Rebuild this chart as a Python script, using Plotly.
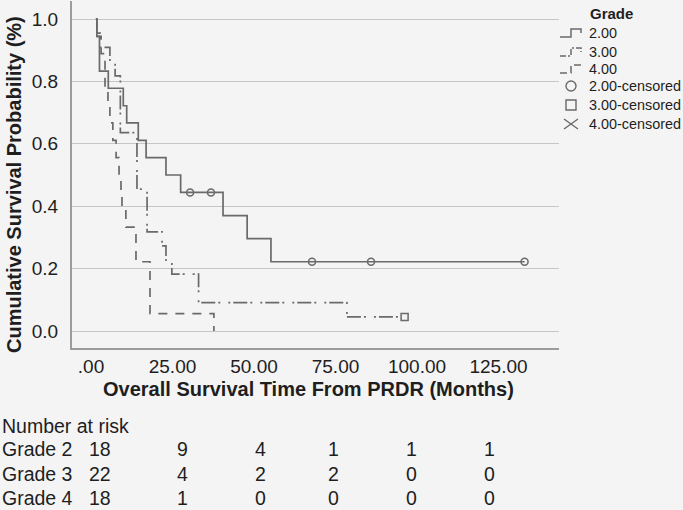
import plotly.graph_objects as go

# ---------------- data ----------------
# Kaplan-Meier step curves: time (months) and cumulative survival after each step
grade2_time = [1.5, 1.8, 2.6, 5.3, 9.9, 10.95, 14.5, 16.9, 23.0, 27.5, 40.5, 47.9, 55.2, 133.0]
grade2_surv = [1.0, 0.944, 0.833, 0.778, 0.722, 0.667, 0.611, 0.556, 0.500, 0.444, 0.370, 0.296, 0.222, 0.222]
grade2_cens_time = [30.4, 36.8, 67.8, 85.9, 133.0]
grade2_cens_surv = [0.444, 0.444, 0.222, 0.222, 0.222]

grade3_time = [1.5, 1.8, 2.8, 5.8, 7.4, 9.0, 14.1, 17.2, 21.8, 23.0, 24.8, 33.0, 78.5, 96.2]
grade3_surv = [1.0, 0.955, 0.909, 0.864, 0.818, 0.636, 0.455, 0.318, 0.273, 0.227, 0.182, 0.091, 0.045, 0.045]
grade3_cens_time = [96.2]
grade3_cens_surv = [0.045]

grade4_time = [1.5, 1.8, 3.1, 4.3, 5.2, 5.8, 6.7, 7.7, 8.6, 9.2, 9.5, 10.7, 13.8, 18.1, 37.7]
grade4_surv = [1.0, 0.944, 0.889, 0.778, 0.722, 0.667, 0.611, 0.556, 0.500, 0.444, 0.389, 0.333, 0.222, 0.056, 0.0]

x_tickvals = [0, 25, 50, 75, 100, 125]
x_ticktext = [".00", "25.00", "50.00", "75.00", "100.00", "125.00"]
y_tickvals = [0.0, 0.2, 0.4, 0.6, 0.8, 1.0]
y_ticktext = ["0.0", "0.2", "0.4", "0.6", "0.8", "1.0"]

legend_title = "Grade"
legend_labels = ["2.00", "3.00", "4.00", "2.00-censored", "3.00-censored", "4.00-censored"]

risk_header = "Number at risk"
risk_groups = ["Grade 2", "Grade 3", "Grade 4"]
risk_grade2 = [18, 9, 4, 1, 1, 1]
risk_grade3 = [22, 4, 2, 2, 0, 0]
risk_grade4 = [18, 1, 0, 0, 0, 0]

# ---------------- layout geometry / style ----------------
FONT = "Liberation Sans, Arial, Helvetica, sans-serif"
W, H = 683, 510
L, R, T, B = 72, 124, 1, 162
PW, PH = W - L - R, H - T - B
BG = "#f4f4f4"
LINE = "#6a6a6a"
TXT = "#1e1e1e"


def px(xp):
    return (xp - L) / PW


def py(yp):
    return 1 - (yp - T) / PH


fig = go.Figure()

DASH2 = "solid"
DASH3 = "2px,3px,14px,3px,2px,8px"
DASH4 = "9px,8px"

for t, s, d in [(grade2_time, grade2_surv, DASH2),
                (grade3_time, grade3_surv, DASH3),
                (grade4_time, grade4_surv, DASH4)]:
    fig.add_trace(go.Scatter(x=t, y=s, mode="lines", line_shape="hv",
                             line=dict(color=LINE, width=1.7, dash=d),
                             showlegend=False, hoverinfo="skip"))

fig.add_trace(go.Scatter(x=grade2_cens_time, y=grade2_cens_surv, mode="markers",
                         marker=dict(symbol="circle-open", size=7, color=LINE,
                                     line=dict(width=1.5, color=LINE)),
                         showlegend=False, hoverinfo="skip"))
fig.add_trace(go.Scatter(x=grade3_cens_time, y=grade3_cens_surv, mode="markers",
                         marker=dict(symbol="square-open", size=7, color=LINE,
                                     line=dict(width=1.5, color=LINE)),
                         showlegend=False, hoverinfo="skip"))

annotations = []
shapes = []

# axis titles
annotations.append(dict(text="<b>Overall Survival Time From PRDR (Months)</b>",
                        x=px(308), y=py(389), xref="paper", yref="paper",
                        xanchor="center", yanchor="middle", showarrow=False,
                        font=dict(family=FONT, size=20, color=TXT)))
annotations.append(dict(text="<b>Cumulative Survival Probability (%)</b>",
                        x=px(14), y=py(185), xref="paper", yref="paper",
                        xanchor="center", yanchor="middle", showarrow=False,
                        textangle=-90,
                        font=dict(family=FONT, size=20, color=TXT)))

# legend (drawn manually)
annotations.append(dict(text="<b>%s</b>" % legend_title, x=px(588), y=py(14),
                        xref="paper", yref="paper", xanchor="left", yanchor="middle",
                        showarrow=False, font=dict(family=FONT, size=15, color=TXT)))
leg_y = [33, 52, 69, 86, 105, 124]
for lab, yy in zip(legend_labels, leg_y):
    annotations.append(dict(text=lab, x=px(587), y=py(yy), xref="paper", yref="paper",
                            xanchor="left", yanchor="middle", showarrow=False,
                            font=dict(family=FONT, size=14.4, color=TXT)))

for yy, d in zip(leg_y[:3], [DASH2, "6px,2px,2px,2px", "7px,4px"]):
    path = "M %f,%f L %f,%f L %f,%f L %f,%f L %f,%f" % (
        px(560), py(yy + 4), px(571), py(yy + 4), px(571), py(yy - 4),
        px(581), py(yy - 4), px(581), py(yy))
    shapes.append(dict(type="path", path=path, xref="paper", yref="paper",
                       line=dict(color=LINE, width=1.5, dash=d)))

cx = 571
shapes.append(dict(type="circle", xref="paper", yref="paper",
                   x0=px(cx - 5), x1=px(cx + 5), y0=py(leg_y[3] + 5), y1=py(leg_y[3] - 5),
                   line=dict(color=LINE, width=1.4)))
shapes.append(dict(type="rect", xref="paper", yref="paper",
                   x0=px(cx - 5), x1=px(cx + 5), y0=py(leg_y[4] + 5), y1=py(leg_y[4] - 5),
                   line=dict(color=LINE, width=1.4)))
xy = leg_y[5]
shapes.append(dict(type="path", xref="paper", yref="paper",
                   path="M %f,%f L %f,%f M %f,%f L %f,%f" % (
                       px(cx - 7), py(xy - 5), px(cx + 7), py(xy + 5),
                       px(cx - 7), py(xy + 5), px(cx + 7), py(xy - 5)),
                   line=dict(color=LINE, width=1.4)))

# number at risk table
RF = dict(family=FONT, size=19.5, color=TXT)
annotations.append(dict(text=risk_header, x=px(0), y=py(426), xref="paper", yref="paper",
                        xanchor="left", yanchor="middle", showarrow=False, font=RF))
col_x = [100, 182, 260, 333, 411, 489]
row_y = [449, 474, 498]
for grp, vals, yy in zip(risk_groups, [risk_grade2, risk_grade3, risk_grade4], row_y):
    annotations.append(dict(text=grp, x=px(0), y=py(yy), xref="paper", yref="paper",
                            xanchor="left", yanchor="middle", showarrow=False, font=RF))
    for v, xx in zip(vals, col_x):
        annotations.append(dict(text=str(v), x=px(xx), y=py(yy), xref="paper", yref="paper",
                                xanchor="center", yanchor="middle", showarrow=False, font=RF))

x0 = -(91 - L) / 3.26
x1 = (L + PW - 91) / 3.26
y0 = -(348 - 331) / 312
y1 = 1 + (19 - T) / 312

fig.update_layout(
    width=W, height=H,
    margin=dict(l=L, r=R, t=T, b=B),
    paper_bgcolor=BG, plot_bgcolor=BG,
    font=dict(family=FONT, color=TXT),
    showlegend=False,
    annotations=annotations,
    shapes=shapes,
    xaxis=dict(range=[x0, x1], showgrid=False, zeroline=False,
               showline=True, linecolor="#9c9c9c", linewidth=2,
               tickvals=x_tickvals, ticktext=x_ticktext,
               ticks="", ticklen=0,
               tickfont=dict(family=FONT, size=19, color=TXT)),
    yaxis=dict(range=[y0, y1], showgrid=True, gridcolor="#c6c6c6", gridwidth=1.3,
               zeroline=False, showline=True, linecolor="#9c9c9c", linewidth=2,
               tickvals=y_tickvals, ticktext=y_ticktext,
               ticks="outside", ticklen=8, tickcolor="rgba(0,0,0,0)",
               tickfont=dict(family=FONT, size=19, color=TXT)),
)

fig.write_html("out.html",
               config={"displayModeBar": False},
               post_script="document.body.style.margin='0';document.body.style.background='%s';" % BG)
